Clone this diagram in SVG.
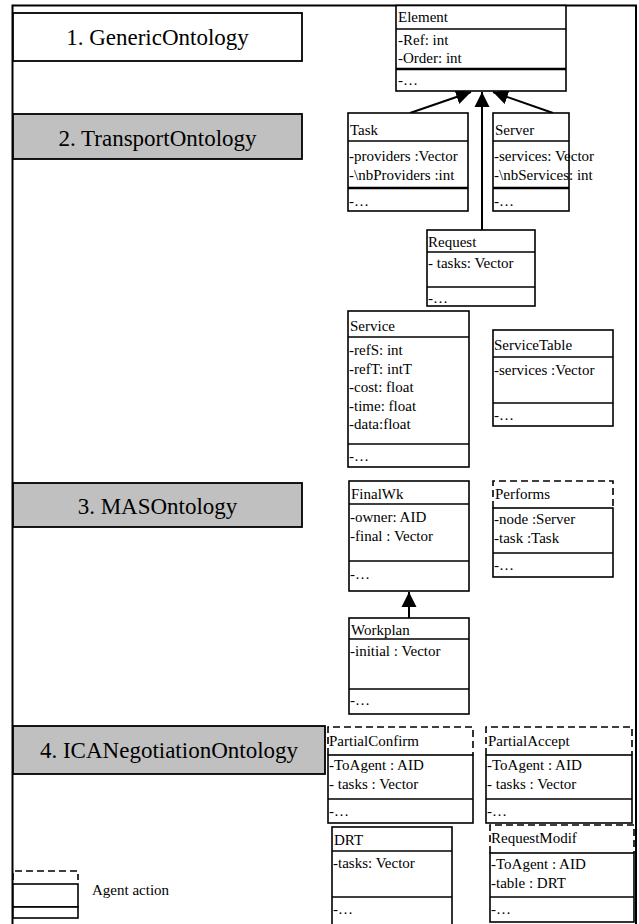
<svg xmlns="http://www.w3.org/2000/svg" width="639" height="924" viewBox="0 0 639 924">
  <style>
    .frame { fill: none; stroke: #000; stroke-width: 2; }
    .box { fill: #fff; stroke: #000; stroke-width: 1.6; }
    .sep { stroke: #000; stroke-width: 1.6; }
    .sep2 { stroke: #000; stroke-width: 2.6; }
    .dash { fill: none; stroke: #000; stroke-width: 1.6; stroke-dasharray: 7 4; }
    .pkg { stroke: #000; stroke-width: 1.8; }
    .white { fill: #fff; }
    .grey { fill: #c0c0c0; }
    .edge { fill: none; stroke: #000; stroke-width: 2; }
    .t { font-size: 15px; }
    .title { font-size: 23px; text-anchor: middle; }
    .legend { font-size: 15px; }
  </style>
  <defs>
    <marker id="inherit" markerUnits="userSpaceOnUse" markerWidth="16" markerHeight="16" viewBox="0 0 16 16" refX="15" refY="8" orient="auto">
      <path d="M0,0.5 L15,8 L0,15.5 Z" fill="#000"/>
    </marker>
  </defs>

  <rect width="639" height="924" fill="#fff"/>

  <!-- outer frame -->
  <path class="frame" d="M12.5,924 V5.5 H636 V924"/>

  <g font-family="'Liberation Serif', 'Times New Roman', serif" fill="#000">
  <!-- ontology layers -->
  <g id="layer-generic">
    <rect class="pkg white" x="13" y="13" width="289" height="48"/>
    <text class="title" x="157.5" y="45">1. GenericOntology</text>
  </g>
  <g id="layer-transport">
    <rect class="pkg grey" x="13" y="114" width="289" height="45"/>
    <text class="title" x="157.5" y="146">2. TransportOntology</text>
  </g>
  <g id="layer-mas">
    <rect class="pkg grey" x="13" y="483" width="289" height="44"/>
    <text class="title" x="157.5" y="514">3. MASOntology</text>
  </g>
  <g id="layer-negotiation">
    <rect class="pkg grey" x="13" y="726" width="312" height="48"/>
    <text class="title" x="169" y="758">4. ICANegotiationOntology</text>
  </g>

  <!-- generalisation arrows -->
  <g id="connectors">
    <line class="edge" x1="410" y1="113" x2="471" y2="92" marker-end="url(#inherit)"/>
    <line class="edge" x1="482" y1="230" x2="482" y2="92" marker-end="url(#inherit)"/>
    <line class="edge" x1="553" y1="113" x2="493" y2="92" marker-end="url(#inherit)"/>
    <line class="edge" x1="409" y1="618" x2="409" y2="592" marker-end="url(#inherit)"/>
  </g>

  <!-- classes -->
  <g id="Element">
    <rect class="box" x="396" y="5.5" width="170" height="85.5"/>
    <line class="sep" x1="396" y1="29" x2="566" y2="29"/>
    <line class="sep2" x1="396" y1="69" x2="566" y2="69"/>
    <text class="t" x="398" y="22">Element</text>
    <text class="t" x="398" y="45">-Ref: int</text>
    <text class="t" x="398" y="63">-Order: int</text>
    <text class="t" x="398" y="85">-…</text>
  </g>

  <g id="Task">
    <rect class="box" x="348" y="113" width="120" height="98"/>
    <line class="sep" x1="348" y1="141" x2="468" y2="141"/>
    <line class="sep2" x1="348" y1="188" x2="468" y2="188"/>
    <text class="t" x="350" y="135">Task</text>
    <text class="t" x="349" y="161">-providers :Vector</text>
    <text class="t" x="349" y="180">-\nbProviders :int</text>
    <text class="t" x="349" y="206">-…</text>
  </g>

  <g id="Server">
    <rect class="box" x="493" y="113" width="76" height="98"/>
    <line class="sep" x1="493" y1="141" x2="569" y2="141"/>
    <line class="sep2" x1="493" y1="188" x2="569" y2="188"/>
    <text class="t" x="495" y="135">Server</text>
    <text class="t" x="494" y="161">-services: Vector</text>
    <text class="t" x="494" y="180">-\nbServices: int</text>
    <text class="t" x="494" y="206">-…</text>
  </g>

  <g id="Request">
    <rect class="box" x="427" y="230" width="108" height="76"/>
    <line class="sep" x1="427" y1="252" x2="535" y2="252"/>
    <line class="sep" x1="427" y1="287" x2="535" y2="287"/>
    <text class="t" x="428" y="247">Request</text>
    <text class="t" x="428" y="268">- tasks: Vector</text>
    <text class="t" x="428" y="303">-…</text>
  </g>

  <g id="Service">
    <rect class="box" x="348" y="311" width="121" height="156"/>
    <line class="sep" x1="348" y1="337" x2="469" y2="337"/>
    <line class="sep" x1="348" y1="444" x2="469" y2="444"/>
    <text class="t" x="350" y="331">Service</text>
    <text class="t" x="349" y="355">-refS: int</text>
    <text class="t" x="349" y="373.5">-refT: intT</text>
    <text class="t" x="349" y="392">-cost: float</text>
    <text class="t" x="349" y="410.5">-time: float</text>
    <text class="t" x="349" y="429">-data:float</text>
    <text class="t" x="349" y="461">-…</text>
  </g>

  <g id="ServiceTable">
    <rect class="box" x="493" y="330" width="120" height="96"/>
    <line class="sep" x1="493" y1="357" x2="613" y2="357"/>
    <line class="sep" x1="493" y1="403" x2="613" y2="403"/>
    <text class="t" x="494" y="350">ServiceTable</text>
    <text class="t" x="494" y="375">-services :Vector</text>
    <text class="t" x="494" y="420">-…</text>
  </g>

  <g id="FinalWk">
    <rect class="box" x="349" y="481" width="120" height="110"/>
    <line class="sep" x1="349" y1="504" x2="469" y2="504"/>
    <line class="sep" x1="349" y1="561" x2="469" y2="561"/>
    <text class="t" x="351" y="499">FinalWk</text>
    <text class="t" x="350" y="522">-owner: AID</text>
    <text class="t" x="350" y="541">-final : Vector</text>
    <text class="t" x="350" y="579">-…</text>
  </g>

  <g id="Workplan">
    <rect class="box" x="349" y="618" width="120" height="96"/>
    <line class="sep" x1="349" y1="639" x2="469" y2="639"/>
    <line class="sep" x1="349" y1="689" x2="469" y2="689"/>
    <text class="t" x="351" y="635">Workplan</text>
    <text class="t" x="350" y="656">-initial : Vector</text>
    <text class="t" x="350" y="705">-…</text>
  </g>

  <!-- agent actions: dashed name compartment -->
  <g id="Performs">
    <path class="dash" d="M493,508 V481 H613 V508"/>
    <rect class="box" x="493" y="508" width="120" height="69"/>
    <line class="sep" x1="493" y1="553" x2="613" y2="553"/>
    <text class="t" x="495" y="499">Performs</text>
    <text class="t" x="494" y="524">-node :Server</text>
    <text class="t" x="494" y="543">-task :Task</text>
    <text class="t" x="494" y="570">-…</text>
  </g>

  <g id="PartialConfirm">
    <path class="dash" d="M328,755 V727 H473 V755"/>
    <rect class="box" x="328" y="755" width="145" height="68"/>
    <line class="sep" x1="328" y1="799" x2="473" y2="799"/>
    <text class="t" x="329" y="746">PartialConfirm</text>
    <text class="t" x="329" y="770">-ToAgent : AID</text>
    <text class="t" x="329" y="789">- tasks : Vector</text>
    <text class="t" x="329" y="816">-…</text>
  </g>

  <g id="PartialAccept">
    <path class="dash" d="M486,755 V727 H632 V755"/>
    <rect class="box" x="486" y="755" width="146" height="68"/>
    <line class="sep" x1="486" y1="799" x2="632" y2="799"/>
    <text class="t" x="488" y="746">PartialAccept</text>
    <text class="t" x="487" y="770">-ToAgent : AID</text>
    <text class="t" x="487" y="789">- tasks : Vector</text>
    <text class="t" x="487" y="816">-…</text>
  </g>

  <g id="DRT">
    <rect class="box" x="332" y="827" width="120" height="110"/>
    <line class="sep" x1="332" y1="851" x2="452" y2="851"/>
    <line class="sep" x1="332" y1="897" x2="452" y2="897"/>
    <text class="t" x="334" y="845">DRT</text>
    <text class="t" x="333" y="868">-tasks: Vector</text>
    <text class="t" x="333" y="914">-…</text>
  </g>

  <g id="RequestModif">
    <path class="dash" d="M490,853 V825 H634 V853"/>
    <rect class="box" x="490" y="853" width="144" height="69"/>
    <line class="sep" x1="490" y1="897" x2="634" y2="897"/>
    <text class="t" x="491" y="843">RequestModif</text>
    <text class="t" x="491" y="869">-ToAgent : AID</text>
    <text class="t" x="491" y="888">-table : DRT</text>
    <text class="t" x="491" y="914">-…</text>
  </g>

  <!-- legend -->
  <g id="legend">
    <path class="dash" d="M13,880 V871 H78 V880"/>
    <rect class="box" x="13" y="884" width="65" height="23"/>
    <rect class="box" x="13" y="907" width="65" height="11"/>
    <text class="legend" x="92" y="895">Agent action</text>
  </g>
  </g>
</svg>
